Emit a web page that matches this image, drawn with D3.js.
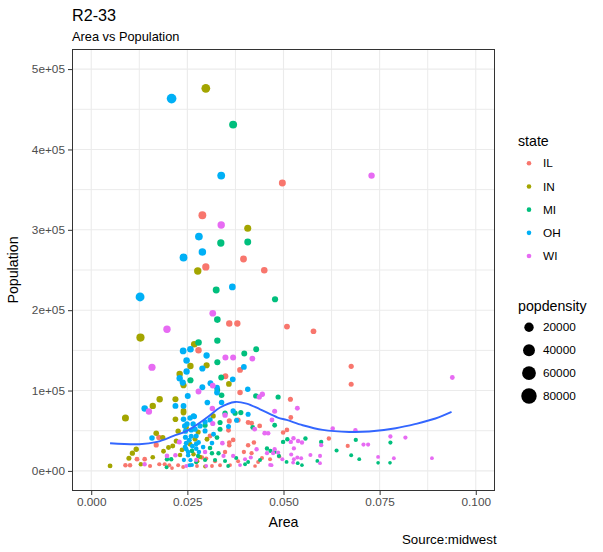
<!DOCTYPE html>
<html>
<head>
<meta charset="utf-8">
<script src="https://cdn.jsdelivr.net/npm/d3@7"></script>
<style>
  body { margin: 0; background: #fff; }
  text { font-family: "Liberation Sans", Arial, sans-serif; }
</style>
</head>
<body>
<div id="chart"></div>
<script>
// state legend
const states = ["IL", "IN", "MI", "OH", "WI"];
const stateColors = ["#F8766D", "#A3A500", "#00BF7D", "#00B0F6", "#E76BF3"];

// points per state: [area, poptotal, popdensity]
const ilPoints = [
  [0.0289, 318100, 11000], [0.0396, 263700, 6660], [0.0298, 253800, 8520], [0.0450, 249700, 5550],
  [0.0497, 358300, 7210], [0.0509, 179600, 3530], [0.0578, 173800, 3010], [0.0676, 130200, 1930],
  [0.0676, 107900, 1600], [0.0359, 183400, 5110], [0.0380, 183400, 4830], [0.0279, 150100, 5380],
  [0.0387, 125600, 3250], [0.0349, 117800, 3380], [0.0387, 97500, 2520], [0.0382, 63400, 1660],
  [0.0417, 59300, 1420], [0.0438, 56000, 1280], [0.0359, 62200, 1730], [0.0408, 60200, 1480],
  [0.0309, 43500, 1410], [0.0359, 35300, 980], [0.0359, 32000, 890], [0.0408, 32000, 780],
  [0.0423, 35300, 830], [0.0417, 22000, 530], [0.0288, 16700, 580], [0.0299, 15400, 520],
  [0.0518, 89200, 1720], [0.0519, 66400, 1280], [0.0509, 51000, 1000], [0.0499, 47800, 960],
  [0.0618, 40300, 650], [0.0667, 31100, 470], [0.0489, 17900, 370], [0.0169, 32300, 1910],
  [0.0176, 41500, 2360], [0.0119, 14600, 1230], [0.0139, 14600, 1050], [0.0089, 7100, 800],
  [0.0101, 7100, 700], [0.0177, 8300, 470], [0.0191, 8300, 430], [0.0203, 7100, 350],
  [0.0226, 7100, 310], [0.0258, 7100, 280], [0.0322, 12100, 380], [0.0335, 7100, 210],
  [0.0382, 12100, 320], [0.0465, 14600, 310], [0.0357, 50600, 1420],
  [0.0153, 6100, 400], [0.0210, 3600, 170], [0.0239, 4900, 200], [0.0275, 6100, 220],
  [0.0361, 7300, 200], [0.0426, 6100, 140], [0.0444, 16100, 360], [0.0397, 23500, 590],
  [0.0369, 38500, 1040], [0.0434, 11100, 260], [0.0314, 6100, 190], [0.0348, 23500, 680]
];
const inPoints = [
  [0.0298, 476100, 15980], [0.0407, 301900, 7420], [0.0277, 248800, 8980], [0.0128, 165900, 12960],
  [0.0268, 157600, 5880], [0.0258, 130600, 5060], [0.0300, 131500, 4380], [0.0230, 120700, 5250],
  [0.0240, 106600, 4440], [0.0358, 108200, 3020], [0.0089, 65900, 7400], [0.0160, 80900, 5060],
  [0.0178, 89200, 5010], [0.0219, 89200, 4070], [0.0219, 64300, 2940], [0.0240, 72600, 3030],
  [0.0049, 6200, 1270], [0.0098, 15800, 1610], [0.0107, 22000, 2060], [0.0117, 27000, 2310],
  [0.0169, 46900, 2780], [0.0186, 41500, 2230], [0.0188, 24500, 1300], [0.0201, 29100, 1450],
  [0.0212, 31100, 1470], [0.0129, 8300, 640], [0.0160, 17000, 1060], [0.0270, 39400, 1460],
  [0.0236, 26100, 1110], [0.0266, 20800, 780], [0.0296, 5500, 190], [0.0301, 39400, 1310],
  [0.0317, 68400, 2160], [0.0240, 74600, 3110], [0.0226, 49400, 2180], [0.0247, 54400, 2200],
  [0.0257, 33200, 1290], [0.0276, 12100, 440],
  [0.0231, 19800, 860], [0.0221, 37200, 1680], [0.0278, 48500, 1740], [0.0283, 17300, 610]
];
const miPoints = [
  [0.0369, 430900, 11680], [0.0337, 283600, 8420], [0.0407, 284900, 7000], [0.0325, 225200, 6930],
  [0.0478, 213600, 4470], [0.0328, 188300, 5740], [0.0328, 162200, 4950], [0.0279, 159700, 5720],
  [0.0398, 146000, 3670], [0.0429, 151400, 3530], [0.0328, 135200, 4120], [0.0258, 112800, 4370],
  [0.0338, 116200, 3440], [0.0328, 100800, 3070], [0.0428, 93300, 2180], [0.0486, 92000, 1890],
  [0.0348, 71800, 2060], [0.0389, 72600, 1870], [0.0477, 56800, 1190], [0.0339, 94200, 2780],
  [0.0374, 71800, 1920], [0.0420, 54000, 1290], [0.0335, 60200, 1800], [0.0335, 51900, 1550],
  [0.0296, 56800, 1920], [0.0327, 41500, 1270], [0.0457, 27900, 610], [0.0466, 24900, 530],
  [0.0488, 18700, 380], [0.0314, 22000, 700], [0.0331, 22000, 660], [0.0348, 12400, 360],
  [0.0408, 11200, 270], [0.0262, 24900, 950], [0.0197, 14600, 740], [0.0208, 14600, 700],
  [0.0499, 36100, 720], [0.0510, 39400, 770], [0.0557, 40300, 720], [0.0598, 36100, 600],
  [0.0688, 38600, 560], [0.0638, 25400, 400], [0.0508, 11200, 220], [0.0537, 9600, 180],
  [0.0548, 7100, 130], [0.0588, 12400, 210], [0.0676, 19500, 290], [0.0697, 14600, 210],
  [0.0778, 35300, 450], [0.0746, 10000, 130], [0.0777, 10000, 130], [0.0477, 23600, 500],
  [0.0196, 4600, 230], [0.0273, 10800, 400], [0.0400, 8300, 210],
  [0.0296, 13600, 460], [0.0322, 13600, 420], [0.0356, 6100, 170], [0.0377, 16100, 430],
  [0.0439, 13600, 310], [0.0278, 18600, 670], [0.0309, 28500, 920]
];
const ohPoints = [
  [0.0209, 463300, 22150], [0.0338, 367500, 10870], [0.0280, 291600, 10400], [0.0289, 272400, 9430],
  [0.0240, 265500, 11060], [0.0367, 228900, 6240], [0.0127, 216500, 17000], [0.0239, 149300, 6250],
  [0.0258, 151400, 5870], [0.0300, 143600, 4790], [0.0248, 137300, 5540], [0.0289, 127400, 4410],
  [0.0248, 123700, 4990], [0.0397, 129400, 3260], [0.0230, 115300, 5010], [0.0368, 114000, 3100],
  [0.0238, 110000, 4620], [0.0310, 109100, 3520], [0.0289, 104100, 3600], [0.0327, 103700, 3170],
  [0.0407, 101600, 2500], [0.0139, 77600, 5580], [0.0219, 80900, 3690], [0.0240, 80900, 3370],
  [0.0240, 64300, 2680], [0.0251, 93300, 3720], [0.0268, 67700, 2530], [0.0327, 97500, 2980],
  [0.0339, 85100, 2510], [0.0369, 74600, 2020], [0.0357, 55200, 1550], [0.0302, 85100, 2820],
  [0.0408, 70500, 1730], [0.0378, 63100, 1670], [0.0266, 68400, 2570], [0.0296, 61000, 2060],
  [0.0296, 49800, 1680], [0.0318, 45700, 1440], [0.0279, 35300, 1270], [0.0158, 41000, 2590],
  [0.0243, 56000, 2300], [0.0245, 49400, 2020], [0.0245, 41900, 1710], [0.0247, 34500, 1400],
  [0.0247, 27000, 1090], [0.0252, 19500, 770], [0.0258, 13300, 520], [0.0260, 43200, 1660],
  [0.0263, 30700, 1170], [0.0255, 38200, 1500], [0.0270, 51900, 1920], [0.0255, 7100, 280],
  [0.0273, 27700, 1010],
  [0.0241, 13600, 560], [0.0252, 23500, 930], [0.0260, 50900, 1960], [0.0265, 58400, 2200],
  [0.0249, 58400, 2340], [0.0257, 65800, 2560], [0.0273, 43400, 1590], [0.0280, 23500, 840],
  [0.0244, 29700, 1220], [0.0262, 7300, 280], [0.0273, 33500, 1230], [0.0283, 56000, 1980],
  [0.0309, 63500, 2050], [0.0314, 34700, 1110], [0.0291, 29700, 1020]
];
const wiPoints = [
  [0.0338, 306000, 9050], [0.0729, 367500, 5040], [0.0939, 116200, 1240], [0.0316, 196200, 6210],
  [0.0197, 176300, 8950], [0.0349, 141100, 4040], [0.0369, 141100, 3820], [0.0419, 139800, 3340],
  [0.0158, 129000, 8160], [0.0316, 106200, 3360], [0.0150, 73900, 4930], [0.0279, 98800, 3540],
  [0.0315, 77600, 2460], [0.0437, 92000, 2110], [0.0445, 95400, 2140], [0.0477, 74300, 1560],
  [0.0470, 63400, 1350], [0.0425, 51900, 1220], [0.0451, 46900, 1040], [0.0460, 46900, 1020],
  [0.0348, 69300, 1990], [0.0316, 59000, 1870], [0.0341, 34500, 1010], [0.0430, 27000, 630],
  [0.0457, 22000, 480], [0.0473, 22000, 470], [0.0486, 22900, 470], [0.0344, 18700, 540],
  [0.0369, 18700, 510], [0.0400, 14600, 370], [0.0415, 16700, 400], [0.0469, 7100, 150],
  [0.0536, 78000, 1460], [0.0628, 52700, 840], [0.0687, 50600, 740], [0.0526, 40600, 770],
  [0.0538, 37300, 690], [0.0548, 35300, 640], [0.0519, 36100, 700], [0.0598, 32000, 540],
  [0.0708, 32800, 460], [0.0720, 32800, 460], [0.0570, 19900, 350], [0.0527, 27900, 530],
  [0.0520, 20400, 390], [0.0497, 14600, 290], [0.0536, 16700, 310], [0.0546, 15800, 290],
  [0.0527, 14600, 280], [0.0525, 10400, 200], [0.0595, 18700, 310], [0.0595, 9600, 160],
  [0.0778, 42800, 550], [0.0817, 41500, 510], [0.0746, 17400, 230], [0.0787, 15800, 200],
  [0.0886, 15800, 180], [0.0477, 27000, 570], [0.0139, 8300, 600], [0.0219, 19500, 890],
  [0.0229, 36100, 1580], [0.0465, 7500, 160], [0.0197, 18700, 950], [0.0273, 13700, 500],
  [0.0299, 6200, 210], [0.0247, 6100, 250], [0.0387, 7300, 190], [0.0296, 23500, 790]
];

// loess smooth
const smoothArea = [0.0049, 0.0125, 0.0171, 0.0214, 0.0249, 0.0301, 0.0335, 0.0374, 0.0404, 0.0439,
  0.0485, 0.0508, 0.0550, 0.0602, 0.0671, 0.0723, 0.0792, 0.0844, 0.0895, 0.0937];
const smoothPop = [34500, 33200, 36100, 43500, 49800, 66400, 78900, 85800, 83800, 76700,
  66400, 63400, 56800, 51000, 48500, 49000, 53100, 58500, 65200, 73400];

const xTicks = [0, 0.025, 0.05, 0.075, 0.1];
const xMinor = [0.0125, 0.0375, 0.0625, 0.0875];
const yTicks = [0, 100000, 200000, 300000, 400000, 500000];
const yTickLabels = ["0e+00", "1e+05", "2e+05", "3e+05", "4e+05", "5e+05"];
const yMinor = [50000, 150000, 250000, 350000, 450000];
const sizeBreaks = [20000, 40000, 60000, 80000];
const densityLimits = [85, 88018];

const width = 603, height = 552;
const panel = { left: 72, right: 495, top: 49, bottom: 491 };

const svg = d3.select("#chart").append("svg")
  .attr("width", width)
  .attr("height", height);

const x = d3.scaleLinear().domain([-0.005, 0.105]).range([panel.left, panel.right]);
const y = d3.scaleLinear().domain([-25000, 525000]).range([panel.bottom, panel.top]);

// ggplot-like area size scale (1..6 mm) -> pixel radius
const densNorm = d3.scaleLinear().domain(densityLimits).range([0, 1]).clamp(true);
const radius = d => {
  const s = 1 + 5 * Math.sqrt(densNorm(d));
  return 0.445 * (2.845 * s + 0.945);
};

// grid
const grid = svg.append("g");
grid.selectAll(".xminor").data(xMinor).join("line")
  .attr("x1", d => x(d)).attr("x2", d => x(d))
  .attr("y1", panel.top).attr("y2", panel.bottom)
  .attr("stroke", "#EBEBEB").attr("stroke-width", 1);
grid.selectAll(".yminor").data(yMinor).join("line")
  .attr("y1", d => y(d)).attr("y2", d => y(d))
  .attr("x1", panel.left).attr("x2", panel.right)
  .attr("stroke", "#EBEBEB").attr("stroke-width", 1);
grid.selectAll(".xmajor").data(xTicks).join("line")
  .attr("x1", d => x(d)).attr("x2", d => x(d))
  .attr("y1", panel.top).attr("y2", panel.bottom)
  .attr("stroke", "#EBEBEB").attr("stroke-width", 1.1);
grid.selectAll(".ymajor").data(yTicks).join("line")
  .attr("y1", d => y(d)).attr("y2", d => y(d))
  .attr("x1", panel.left).attr("x2", panel.right)
  .attr("stroke", "#EBEBEB").attr("stroke-width", 1.1);

// points, drawn in state order like the data
const allPoints = [ilPoints, inPoints, miPoints, ohPoints, wiPoints]
  .flatMap((pts, i) => pts.map(p => ({ area: p[0], pop: p[1], dens: p[2], state: states[i] })));
const color = d3.scaleOrdinal().domain(states).range(stateColors);

svg.append("g").selectAll("circle").data(allPoints).join("circle")
  .attr("cx", d => x(d.area))
  .attr("cy", d => y(d.pop))
  .attr("r", d => radius(d.dens))
  .attr("fill", d => color(d.state));

// smooth line
const smoothData = smoothArea.map((a, i) => [a, smoothPop[i]]);
svg.append("path")
  .datum(smoothData)
  .attr("fill", "none")
  .attr("stroke", "#3366FF")
  .attr("stroke-width", 1.9)
  .attr("d", d3.line().x(d => x(d[0])).y(d => y(d[1])).curve(d3.curveCatmullRom));

// panel border
svg.append("rect")
  .attr("x", panel.left + 0.5).attr("y", panel.top + 0.5)
  .attr("width", panel.right - panel.left - 1).attr("height", panel.bottom - panel.top - 1)
  .attr("fill", "none").attr("stroke", "#333333").attr("stroke-width", 1);

// axes
const xAxis = d3.axisBottom(x).tickValues(xTicks).tickFormat(d3.format(".3f")).tickSize(4).tickPadding(3);
const gx = svg.append("g").attr("transform", `translate(0,${panel.bottom})`).call(xAxis);
gx.select(".domain").remove();
gx.selectAll(".tick line").attr("stroke", "#333333");
gx.selectAll(".tick text").attr("fill", "#4D4D4D").style("font-size", "11.8px")
  .style("font-family", "'Liberation Sans', Arial, sans-serif");

const yAxis = d3.axisLeft(y).tickValues(yTicks).tickFormat((d, i) => yTickLabels[i]).tickSize(4).tickPadding(3);
const gy = svg.append("g").attr("transform", `translate(${panel.left},0)`).call(yAxis);
gy.select(".domain").remove();
gy.selectAll(".tick line").attr("stroke", "#333333");
gy.selectAll(".tick text").attr("fill", "#4D4D4D").style("font-size", "11.8px")
  .style("font-family", "'Liberation Sans', Arial, sans-serif");

// titles
svg.append("text").attr("x", 72).attr("y", 20.7).text("R2-33")
  .style("font-size", "16.2px").attr("fill", "#000");
svg.append("text").attr("x", 72).attr("y", 40.7).text("Area vs Population")
  .style("font-size", "12.8px").attr("fill", "#000");
svg.append("text").attr("x", (panel.left + panel.right) / 2).attr("y", 527)
  .attr("text-anchor", "middle").text("Area").style("font-size", "14.2px");
svg.append("text")
  .attr("transform", `translate(18,${(panel.top + panel.bottom) / 2}) rotate(-90)`)
  .attr("text-anchor", "middle").text("Population").style("font-size", "14.2px");
svg.append("text").attr("x", 402).attr("y", 544).text("Source:midwest")
  .style("font-size", "13.3px");

// legend: state
const lg = svg.append("g");
lg.append("text").attr("x", 518).attr("y", 146).text("state").style("font-size", "14.2px");
const stateKeyY = d3.scalePoint().domain(states).range([163.3, 256]);
lg.selectAll(".skey").data(states).join("circle")
  .attr("cx", 529).attr("cy", d => stateKeyY(d)).attr("r", 2.3)
  .attr("fill", d => color(d));
lg.selectAll(".slab").data(states).join("text")
  .attr("x", 543).attr("y", d => stateKeyY(d)).attr("dy", "0.35em")
  .text(d => d).style("font-size", "11.8px");

// legend: popdensity
lg.append("text").attr("x", 518).attr("y", 310.5).text("popdensity").style("font-size", "14.2px");
const sizeKeyY = d3.scalePoint().domain(sizeBreaks).range([327.3, 396]);
lg.selectAll(".zkey").data(sizeBreaks).join("circle")
  .attr("cx", 529).attr("cy", d => sizeKeyY(d)).attr("r", d => radius(d))
  .attr("fill", "#000");
lg.selectAll(".zlab").data(sizeBreaks).join("text")
  .attr("x", 543).attr("y", d => sizeKeyY(d)).attr("dy", "0.35em")
  .text(d => d).style("font-size", "11.8px");
</script>
</body>
</html>
